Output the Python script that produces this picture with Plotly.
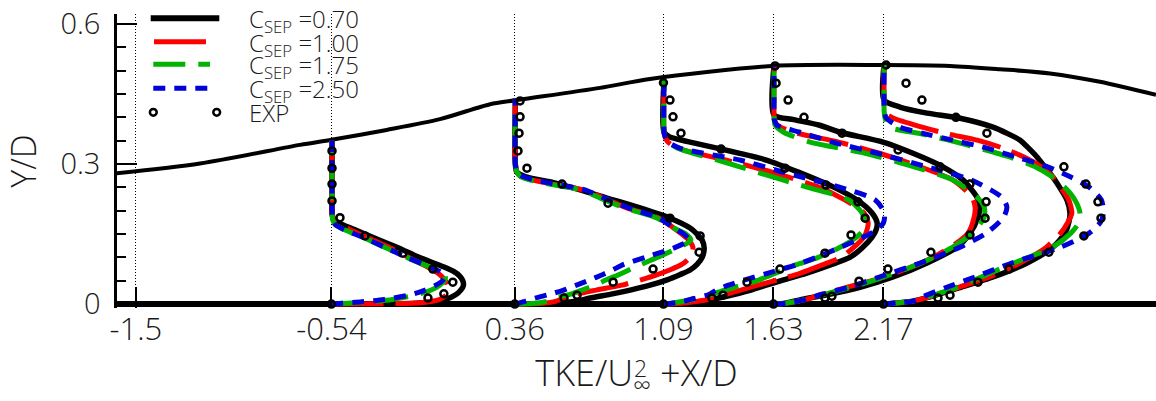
import plotly.graph_objects as go

# ---------------- data ----------------
STATIONS = [-0.54, 0.36, 1.09, 1.63, 2.17]
X_TICKS = [-1.5, -0.54, 0.36, 1.09, 1.63, 2.17]
X_TICK_TEXT = ["-1.5", "-0.54", "0.36", "1.09", "1.63", "2.17"]
Y_TICKS = [0, 0.3, 0.6]
Y_TICK_TEXT = ["0", "0.3", "0.6"]
MODELS = ["0.70", "1.00", "1.75", "2.50"]

UPPER_WALL_X = [-1.594, -1.185, -0.694, -0.539, -0.269, -0.007, 0.239, 0.356, 0.779, 1.024,
                1.629, 2.167, 2.497, 2.742, 2.988, 3.233, 3.508]
UPPER_WALL_Y = [0.280, 0.301, 0.341, 0.352, 0.373, 0.396, 0.428, 0.436, 0.463, 0.482,
                0.510, 0.512, 0.510, 0.503, 0.494, 0.476, 0.448]
LOWER_WALL_X = [-1.6, 3.6]
LOWER_WALL_Y = [0.0, 0.0]

# station X/D = -0.54
S1_Y = [0, 0.002, 0.005, 0.01, 0.02, 0.03, 0.04, 0.05, 0.06, 0.07, 0.08, 0.10, 0.12, 0.14, 0.16,
        0.17, 0.18, 0.19, 0.25, 0.35]
S1_K070 = [0, 0.42, 0.50, 0.56, 0.61, 0.635, 0.648, 0.645, 0.63, 0.60, 0.55, 0.43, 0.33, 0.22, 0.11,
           0.055, 0.015, 0.004, 0.003, 0.003]
S1_K100 = [0, 0.40, 0.48, 0.53, 0.565, 0.575, 0.57, 0.56, 0.54, 0.51, 0.47, 0.38, 0.29, 0.19, 0.09,
           0.045, 0.012, 0.004, 0.003, 0.003]
S1_K175 = [0, 0.08, 0.19, 0.30, 0.42, 0.49, 0.53, 0.555, 0.56, 0.545, 0.48, 0.37, 0.27, 0.17, 0.06,
           0.02, 0.006, 0.004, 0.003, 0.003]
S1_K250 = [0, 0.05, 0.15, 0.26, 0.39, 0.46, 0.51, 0.545, 0.555, 0.53, 0.48, 0.37, 0.27, 0.17, 0.06,
           0.02, 0.006, 0.004, 0.003, 0.003]
S1_EXP_Y = [0, 0.013, 0.022, 0.047, 0.075, 0.109, 0.146, 0.185, 0.221, 0.257, 0.291, 0.328]
S1_EXP_K = [0, 0.474, 0.552, 0.596, 0.498, 0.351, 0.165, 0.042, 0.003, 0.003, 0.003, 0.003]

# station X/D = 0.36
S2_Y = [0, 0.002, 0.006, 0.013, 0.022, 0.03, 0.04, 0.052, 0.063, 0.073, 0.085, 0.10, 0.12, 0.137,
        0.15, 0.163, 0.184, 0.206, 0.227, 0.245, 0.26, 0.273, 0.283, 0.30, 0.44]
S2_K070 = [0, 0.21, 0.30, 0.37, 0.48, 0.567, 0.66, 0.748, 0.81, 0.861, 0.895, 0.92, 0.93, 0.92,
           0.895, 0.861, 0.763, 0.615, 0.453, 0.317, 0.19, 0.05, 0.01, 0.003, 0.003]
S2_K100 = [0, 0.14, 0.20, 0.24, 0.31, 0.40, 0.52, 0.62, 0.70, 0.76, 0.82, 0.86, 0.875, 0.855,
           0.82, 0.78, 0.71, 0.55, 0.44, 0.33, 0.15, 0.03, 0.01, 0.003, 0.003]
S2_K175 = [0, 0.10, 0.16, 0.20, 0.28, 0.33, 0.39, 0.45, 0.51, 0.56, 0.62, 0.70, 0.80, 0.865,
           0.84, 0.78, 0.70, 0.54, 0.42, 0.32, 0.13, 0.03, 0.01, 0.003, 0.003]
S2_K250 = [0, 0.02, 0.05, 0.10, 0.18, 0.24, 0.30, 0.37, 0.43, 0.48, 0.535, 0.64, 0.78, 0.855,
           0.83, 0.78, 0.71, 0.56, 0.44, 0.34, 0.16, 0.04, 0.01, 0.003, 0.003]
S2_EXP_Y = [0, 0.013, 0.019, 0.047, 0.075, 0.111, 0.146, 0.184, 0.216, 0.257, 0.291, 0.328, 0.366,
            0.401, 0.435]
S2_EXP_K = [0, 0.242, 0.306, 0.483, 0.679, 0.905, 0.910, 0.762, 0.458, 0.232, 0.060, 0.016, 0.021,
            0.026, 0.026]

# station X/D = 1.09
S3_Y = [0, 0.002, 0.006, 0.012, 0.02, 0.03, 0.04, 0.052, 0.066, 0.084, 0.10, 0.12, 0.144, 0.16,
        0.174, 0.195, 0.223, 0.251, 0.281, 0.308, 0.334, 0.348, 0.358, 0.368, 0.48]
S3_K070 = [0, 0.10, 0.19, 0.26, 0.34, 0.43, 0.50, 0.59, 0.70, 0.82, 0.915, 0.975, 1.025, 1.045,
           1.049, 1.024, 0.951, 0.833, 0.671, 0.509, 0.263, 0.12, 0.03, 0.003, 0.003]
S3_K100 = [0, 0.09, 0.17, 0.24, 0.30, 0.38, 0.46, 0.56, 0.67, 0.78, 0.87, 0.93, 0.985, 1.0,
           1.005, 0.985, 0.89, 0.76, 0.545, 0.31, 0.07, 0.02, 0.008, 0.003, 0.003]
S3_K175 = [0, 0.04, 0.10, 0.16, 0.23, 0.30, 0.38, 0.47, 0.55, 0.65, 0.76, 0.86, 0.95, 0.985,
           0.99, 0.975, 0.91, 0.70, 0.47, 0.27, 0.07, 0.02, 0.008, 0.003, 0.003]
S3_K250 = [0, 0.04, 0.10, 0.15, 0.22, 0.26, 0.315, 0.40, 0.51, 0.65, 0.75, 0.86, 0.985, 1.05,
           1.08, 1.085, 1.04, 0.86, 0.60, 0.38, 0.08, 0.02, 0.008, 0.003, 0.003]
S3_EXP_Y = [0, 0.013, 0.019, 0.047, 0.075, 0.109, 0.148, 0.184, 0.219, 0.255, 0.291, 0.332, 0.366,
            0.401, 0.437, 0.474]
S3_EXP_K = [0, 0.238, 0.292, 0.410, 0.572, 0.793, 0.921, 0.990, 0.955, 0.798, 0.597, 0.283, 0.086,
            0.047, 0.032, 0.0]

# station X/D = 1.63
S4_Y = [0, 0.002, 0.009, 0.02, 0.036, 0.058, 0.088, 0.122, 0.152, 0.186, 0.208, 0.229, 0.266,
        0.294, 0.323, 0.347, 0.368, 0.383, 0.395, 0.405, 0.51]
S4_K070 = [0, 0.06, 0.13, 0.263, 0.425, 0.587, 0.754, 0.901, 0.965, 1.004, 1.014, 0.999, 0.930,
           0.832, 0.685, 0.538, 0.327, 0.227, 0.10, 0.003, 0.003]
S4_K100 = [0, 0.06, 0.15, 0.23, 0.36, 0.54, 0.725, 0.87, 0.955, 0.985, 0.99, 0.975, 0.88, 0.72,
           0.52, 0.32, 0.10, 0.02, 0.005, 0.003, 0.003]
S4_K175 = [0, 0.06, 0.15, 0.24, 0.38, 0.54, 0.725, 0.88, 0.975, 1.035, 1.035, 1.0, 0.88, 0.69,
           0.45, 0.18, 0.05, 0.008, 0.004, 0.003, 0.003]
S4_K250 = [0, 0.06, 0.15, 0.23, 0.37, 0.52, 0.72, 0.916, 1.045, 1.13, 1.146, 1.12, 0.97, 0.754,
           0.51, 0.29, 0.13, 0.017, 0.004, 0.003, 0.003]
S4_EXP_Y = [0, 0.013, 0.017, 0.049, 0.075, 0.111, 0.148, 0.184, 0.219, 0.257, 0.294, 0.330, 0.366,
            0.400, 0.437, 0.473, 0.510]
S4_EXP_K = [0, 0.253, 0.287, 0.420, 0.562, 0.773, 0.965, 1.039, 1.044, 0.965, 0.818, 0.612, 0.337,
            0.150, 0.072, 0.013, 0.008]

# station X/D = 2.17
S5_Y = [0, 0.003, 0.007, 0.017, 0.036, 0.058, 0.088, 0.122, 0.152, 0.175, 0.195, 0.223, 0.25,
        0.272, 0.295, 0.315, 0.335, 0.351, 0.365, 0.379, 0.398, 0.409, 0.422, 0.437, 0.512]
S5_K070 = [0, 0.08, 0.15, 0.24, 0.38, 0.538, 0.705, 0.832, 0.891, 0.91, 0.916, 0.901, 0.865,
           0.832, 0.79, 0.754, 0.71, 0.671, 0.61, 0.538, 0.376, 0.214, 0.081, 0.003, 0.003]
S5_K100 = [0, 0.08, 0.15, 0.24, 0.37, 0.52, 0.67, 0.80, 0.87, 0.905, 0.925, 0.91, 0.87, 0.832,
           0.77, 0.69, 0.58, 0.46, 0.31, 0.19, 0.05, 0.01, 0.004, 0.003, 0.003]
S5_K175 = [0, 0.08, 0.15, 0.23, 0.36, 0.48, 0.64, 0.83, 0.92, 0.96, 0.965, 0.94, 0.89, 0.83,
           0.74, 0.62, 0.46, 0.32, 0.18, 0.03, 0.008, 0.004, 0.003, 0.003, 0.003]
S5_K250 = [0, 0.08, 0.15, 0.20, 0.31, 0.45, 0.63, 0.87, 1.01, 1.065, 1.08, 1.07, 1.01, 0.92,
           0.80, 0.65, 0.50, 0.34, 0.20, 0.08, 0.015, 0.006, 0.004, 0.003, 0.003]
S5_EXP_Y = [0, 0.013, 0.019, 0.047, 0.075, 0.111, 0.146, 0.184, 0.219, 0.257, 0.294, 0.366, 0.400,
            0.437, 0.473, 0.512]
S5_EXP_K = [0, 0.268, 0.327, 0.464, 0.616, 0.812, 0.984, 1.068, 1.053, 0.994, 0.886, 0.508, 0.356,
            0.189, 0.111, 0.013]

PROFILE_Y = [S1_Y, S2_Y, S3_Y, S4_Y, S5_Y]
PROFILE_K = [
    [S1_K070, S1_K100, S1_K175, S1_K250],
    [S2_K070, S2_K100, S2_K175, S2_K250],
    [S3_K070, S3_K100, S3_K175, S3_K250],
    [S4_K070, S4_K100, S4_K175, S4_K250],
    [S5_K070, S5_K100, S5_K175, S5_K250],
]
EXP_Y = [S1_EXP_Y, S2_EXP_Y, S3_EXP_Y, S4_EXP_Y, S5_EXP_Y]
EXP_K = [S1_EXP_K, S2_EXP_K, S3_EXP_K, S4_EXP_K, S5_EXP_K]

# ---------------- styling ----------------
COLORS = ["#000000", "#ff0000", "#00b400", "#0000d8"]
DASHES = ["solid", "52px,12px", "32px,13px", "12px,9px"]
WIDTHS = [5.5, 5, 5, 5]
FONT = "Open Sans"
TXT = "#1a1a1a"
WEIGHT = 300

W, H = 1156, 401
ML, MR, MT, MB = 117, 0, 14, 93
PW, PH = W - ML - MR, H - MT - MB


def paper(px, py):
    return (px - ML) / PW, (H - MB - py) / PH


def fnt(size):
    return dict(family=FONT, size=size, color=TXT, weight=WEIGHT)


fig = go.Figure()

# walls
fig.add_trace(go.Scatter(x=UPPER_WALL_X, y=UPPER_WALL_Y, mode="lines",
                         line=dict(color="black", width=4, shape="spline", smoothing=0.8),
                         showlegend=False, hoverinfo="skip"))
fig.add_trace(go.Scatter(x=LOWER_WALL_X, y=LOWER_WALL_Y, mode="lines",
                         line=dict(color="black", width=6), showlegend=False, hoverinfo="skip"))

# model profiles
for m in range(4):
    for s, st in enumerate(STATIONS):
        ks = PROFILE_K[s][m]
        fig.add_trace(go.Scatter(
            x=[st + k for k in ks], y=PROFILE_Y[s], mode="lines",
            line=dict(color=COLORS[m], width=WIDTHS[m], dash=DASHES[m], shape="spline", smoothing=0.7),
            name="C_SEP=" + MODELS[m], showlegend=False))

# experiment
for s, st in enumerate(STATIONS):
    fig.add_trace(go.Scatter(
        x=[st + k for k in EXP_K[s]], y=EXP_Y[s], mode="markers",
        marker=dict(symbol="circle-open", size=7, color="black", line=dict(width=2.5, color="black")),
        name="EXP", showlegend=False, cliponaxis=False))

# ---------------- manual legend ----------------
shapes = []
annotations = []
legend_rows = [18.3, 41.7, 64.3, 88.3]
legend_x = [(150.7, 219.3), (154, 206), (153.3, 210), (153.3, 208.3)]
for m in range(4):
    x0, y0 = paper(legend_x[m][0], legend_rows[m])
    x1, _ = paper(legend_x[m][1], legend_rows[m])
    shapes.append(dict(type="line", xref="paper", yref="paper", x0=x0, x1=x1, y0=y0, y1=y0,
                       line=dict(color=COLORS[m], width=6 if m == 0 else 5, dash=DASHES[m])))
    tx, ty = paper(246.7, legend_rows[m] + 2)
    annotations.append(dict(xref="paper", yref="paper", x=tx, y=ty, xanchor="left", yanchor="middle",
                            text="C<sub>SEP</sub> =" + MODELS[m], showarrow=False, font=fnt(24)))
for cx in (153.3, 216.7):
    x0, y0 = paper(cx - 3.4, 112.3 + 3.4)
    x1, y1 = paper(cx + 3.4, 112.3 - 3.4)
    shapes.append(dict(type="circle", xref="paper", yref="paper", x0=x0, x1=x1, y0=y0, y1=y1,
                       line=dict(color="black", width=2.5)))
tx, ty = paper(246.7, 112.3)
annotations.append(dict(xref="paper", yref="paper", x=tx, y=ty, xanchor="left", yanchor="middle",
                        text="EXP", showarrow=False, font=fnt(24)))
# superscript 2 of U_inf^2 in the x title
sx, sy = paper(640, 368)
annotations.append(dict(xref="paper", yref="paper", x=sx, y=sy, xanchor="center", yanchor="middle",
                        text="2", showarrow=False, font=fnt(23)))

x_lo = -1.5926
x_hi = 3.5081
fig.update_layout(
    width=W, height=H, margin=dict(l=ML, r=MR, t=MT, b=MB),
    paper_bgcolor="white", plot_bgcolor="white",
    font=dict(family=FONT, color=TXT, weight=WEIGHT),
    shapes=shapes, annotations=annotations, showlegend=False,
    xaxis=dict(range=[x_lo, x_hi], tickmode="array", tickvals=X_TICKS, ticktext=X_TICK_TEXT,
               ticks="inside", ticklen=21, tickwidth=1.5, tickcolor="black",
               showgrid=True, gridcolor="black", gridwidth=1, griddash="1px,2px",
               zeroline=False, showline=False, tickfont=fnt(31),
               ticklabelstandoff=0,
               title=dict(text="TKE/U<sub>∞</sub> +X/D", font=fnt(36), standoff=6)),
    yaxis=dict(range=[-0.00835, 0.6212], tickmode="array", tickvals=Y_TICKS, ticktext=Y_TICK_TEXT,
               ticks="inside", ticklen=20, tickwidth=2, tickcolor="black",
               minor=dict(dtick=0.05, tick0=0, ticks="inside", ticklen=9, tickwidth=2,
                          tickcolor="black", showgrid=False),
               showgrid=False, zeroline=False, showline=True, linecolor="black", linewidth=2.5,
               tickfont=fnt(29), ticklabelstandoff=8,
               title=dict(text="Y/D", font=fnt(34), standoff=14)),
)

fig.write_html("out.html")
